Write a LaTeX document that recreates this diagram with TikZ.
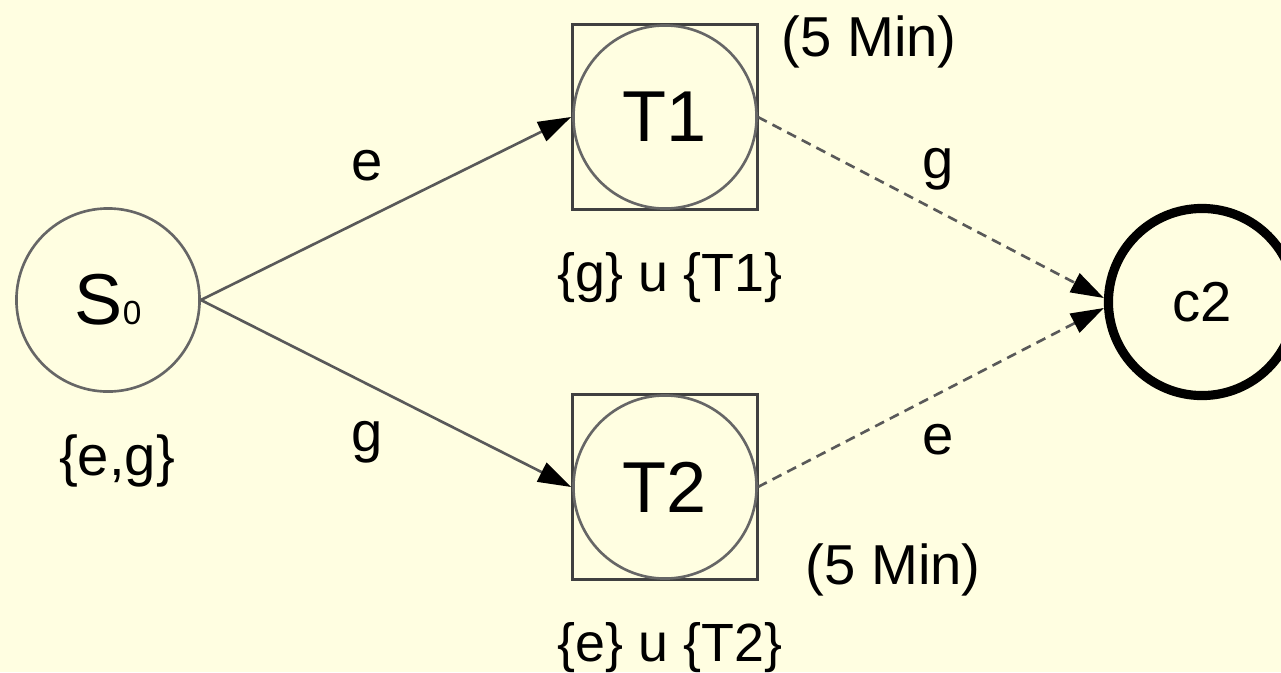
\documentclass[tikz,border=0pt]{standalone}
\usepackage{fontspec}
\setmainfont{Liberation Sans}
\usepackage{xcolor}
\usetikzlibrary{arrows.meta,positioning}
\definecolor{paper}{RGB}{255,254,225}

\begin{document}
\begin{tikzpicture}[
    x=0.01cm,y=-0.01cm,
    node distance=4.1mm,
    state/.style={draw=black!60,circle,line width=0.75pt,inner sep=0pt,
        minimum size=18.3mm,font=\fontsize{20.5}{24}\selectfont},
    taskbox/.style={draw=black!75,line width=0.75pt,minimum size=18.5mm,inner sep=0pt},
    final/.style={draw=black,circle,line width=2.6pt,inner sep=0pt,
        minimum size=18.7mm,font=\fontsize{16}{19}\selectfont},
    lbl/.style={inner sep=0pt,font=\fontsize{16}{19}\selectfont},
    arrow/.style={-{Triangle[length=3.3mm,width=2.1mm,color=black]},line width=0.75pt,draw=black!65},
    wait/.style={arrow,dash pattern=on 1mm off 0.65mm}
]
\fill[paper] (0,0) rectangle (1281,672);
\useasboundingbox (0,0) rectangle (1281,672);

\node[state] (s0) at (108,300) {S{\fontsize{9.5}{10}\selectfont 0}};
\node[taskbox] (t1box) at (665,117) {};
\node[state] (t1) at (t1box) {T1};
\node[taskbox] (t2box) at (665,487) {};
\node[state] (t2) at (t2box) {T2};
\node[final] (c2) at (1202,302) {c2};

% event sets
\node[lbl,below=of s0,xshift=0.9mm] (s0set) {\{e,g\}};
\node[lbl,below=of t1box,xshift=0.5mm,font=\fontsize{15.3}{18}\selectfont] (t1set) {\{g\} u \{T1\}};
\node[lbl,below=of t2box,xshift=0.5mm,font=\fontsize{15.3}{18}\selectfont] (t2set) {\{e\} u \{T2\}};
% timers
\node[lbl,right=2.2mm of t1box.north east,yshift=-1.9mm] (t1time) {(5 Min)};
\node[lbl,right=4.6mm of t2box.south east,yshift=1.1mm] (t2time) {(5 Min)};

\draw[arrow] (s0.east) -- node[lbl,pos=0.45,yshift=5.2mm] (ev1) {e} (t1box.west);
\draw[arrow] (s0.east) -- node[lbl,pos=0.45,yshift=-5.8mm] (ev2) {g} (t2box.west);
\draw[wait] (t1.east) -- node[lbl,pos=0.52,yshift=4.2mm] (ev3) {g} ([yshift=0.4mm]c2.west);
\draw[wait] (t2.east) -- node[lbl,pos=0.52,yshift=-4.6mm] (ev4) {e} ([yshift=-0.6mm]c2.west);
\end{tikzpicture}
\end{document}
